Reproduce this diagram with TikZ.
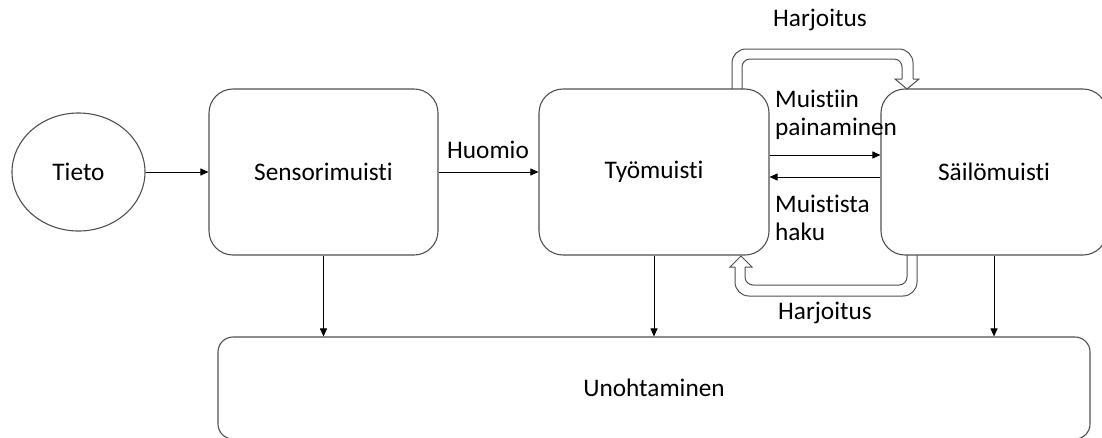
\documentclass[tikz,border=0pt]{standalone}
\usepackage{fontspec}
\setmainfont{Carlito}[Ligatures={NoCommon,NoContextual}]
\usetikzlibrary{arrows.meta,shapes.geometric,calc}
\definecolor{edgegray}{RGB}{80,80,80}
\begin{document}
\begin{tikzpicture}[x=1pt,y=-1pt,
  font=\fontsize{25.3}{28}\selectfont,
  box/.style={draw=edgegray,line width=1.1pt,rounded corners=24pt,minimum width=#1,minimum height=166pt,inner sep=0pt},
  arr/.style={draw=black,line width=0.9pt,-{Triangle[length=8pt,width=7pt]}},
  loop/.style={draw=edgegray,line width=1pt},
  lbl/.style={inner sep=0pt}]
\useasboundingbox (0,0) rectangle (1102,437);
\clip (0,0) rectangle (1102,437);
% nodes
\node[ellipse,draw=edgegray,line width=1.1pt,minimum width=133pt,minimum height=118pt,inner sep=0pt] (tieto) at (78.5,172) {Tieto};
\node[box=229pt] (sens) at (323.5,172) {Sensorimuisti};
\node[box=230pt] (tyo) at (654,172) {Työmuisti};
\node[box=226pt] (sail) at (994,172) {Säilömuisti};
\node[draw=edgegray,line width=1.1pt,rounded corners=15pt,minimum width=872pt,minimum height=102pt,inner sep=0pt] (unoh) at (654,388) {Unohtaminen};
% labels
\node[lbl,anchor=base] (huomio) at (488,158) {Huomio};
\node[lbl,anchor=base west,align=left] (paina) at (775,135) {Muistiin\\painaminen};
\node[lbl,anchor=base west,align=left] (haku) at (775,240) {Muistista\\haku};
\node[lbl,anchor=base] (harj1) at (820,26) {Harjoitus};
\node[lbl,anchor=base] (harj2) at (825,319) {Harjoitus};
% connectors
\draw[arr] (tieto.east) -- (sens.west);
\draw[arr] (sens.east) -- (tyo.west);
\draw[arr] ([yshift=17pt]tyo.east) -- ([yshift=17pt]tyo.east -| sail.west);
\draw[arr] ([yshift=-5pt]sail.west) -- ([yshift=-5pt]sail.west -| tyo.east);
\draw[arr] (sens.south) -- (sens.south |- unoh.north);
\draw[arr] (tyo.south) -- (tyo.south |- unoh.north);
\draw[arr] (sail.south) -- (sail.south |- unoh.north);
% upper Harjoitus loop (Tyomuisti -> Sailomuisti)
\coordinate (u1) at (732,89);
\coordinate (u2) at (742,89);
\draw[loop,rounded corners=8pt] (u2) -- (742,59) -- (902,59) -- (902,79);
\draw[loop,rounded corners=14pt] (u1) -- (732,49) -- (913,49) -- (913,79);
\draw[loop,line join=miter] (902,79) -- (895,79) -- (907,89) -- (919,79) -- (913,79);
% lower Harjoitus loop (Sailomuisti -> Tyomuisti)
\coordinate (l1) at (917,255);
\coordinate (l2) at (907,255);
\draw[loop,rounded corners=14pt] (l1) -- (917,296) -- (735,296) -- (735,267);
\draw[loop,rounded corners=8pt] (l2) -- (907,285) -- (745,285) -- (745,267);
\draw[loop,line join=miter] (735,267) -- (730,267) -- (741,256) -- (752,267) -- (745,267);
\end{tikzpicture}
\end{document}
